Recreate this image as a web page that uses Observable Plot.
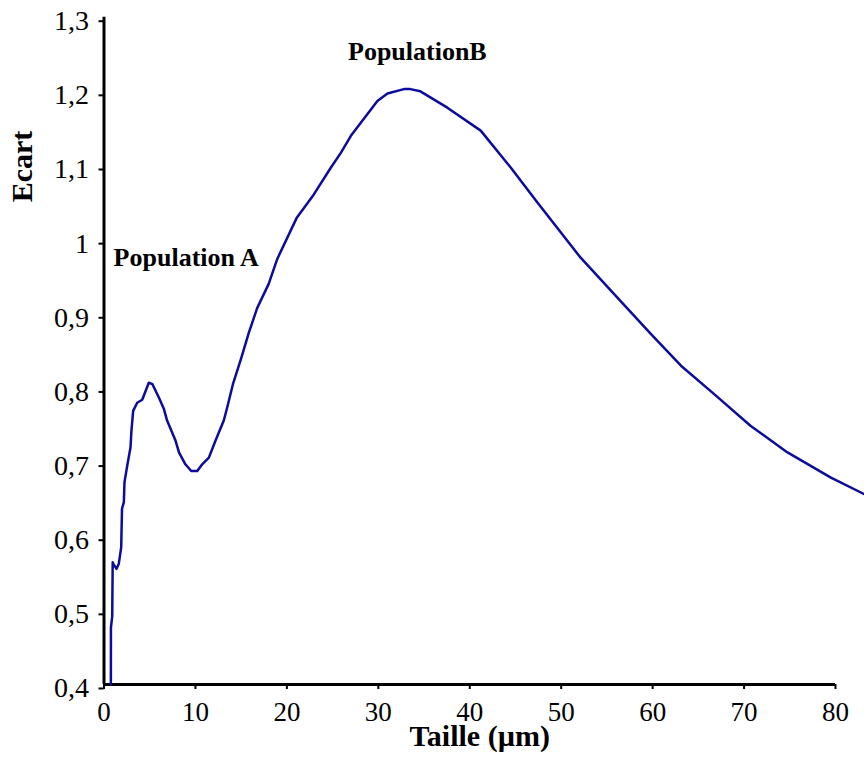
<!DOCTYPE html>
<html><head><meta charset="utf-8">
<script src="https://cdn.jsdelivr.net/npm/d3@7"></script>
<script src="https://cdn.jsdelivr.net/npm/@observablehq/plot@0.6"></script>
<style>body{margin:0;background:#fff}</style>
</head><body><div id="chart"></div>
<script>
const taille = [0.75, 0.76, 0.9, 0.95, 1.05, 1.37, 1.62, 1.88, 1.97, 2.17, 2.24, 2.54, 2.9, 3.0, 3.19, 3.63, 4.18, 4.9, 5.3, 6.0, 6.54, 6.9, 7.82, 8.2, 8.9, 9.54, 10.2, 10.74, 11.47, 12.2, 13.1, 13.48, 14.1, 15.0, 15.85, 16.76, 18.0, 18.95, 21.1, 22.95, 24.8, 25.9, 27.0, 29.9, 31.0, 32.8, 33.5, 34.6, 37.55, 41.2, 44.5, 47.4, 52.1, 56.5, 59.8, 63.1, 66.7, 70.7, 74.75, 79.5, 83.1];
const ecart = [0.40, 0.477, 0.492, 0.565, 0.562, 0.556, 0.563, 0.585, 0.637, 0.646, 0.673, 0.695, 0.72, 0.742, 0.769, 0.780, 0.784, 0.807, 0.805, 0.787, 0.772, 0.756, 0.729, 0.713, 0.697, 0.688, 0.688, 0.697, 0.706, 0.729, 0.756, 0.774, 0.805, 0.84, 0.875, 0.908, 0.94, 0.974, 1.03, 1.061, 1.097, 1.117, 1.14, 1.187, 1.197, 1.203, 1.203, 1.2, 1.178, 1.147, 1.097, 1.05, 0.976, 0.917, 0.873, 0.83, 0.792, 0.749, 0.713, 0.679, 0.657];
const xTicks = [0, 10, 20, 30, 40, 50, 60, 70, 80];
const yTicks = [0.4, 0.5, 0.6, 0.7, 0.8, 0.9, 1.0, 1.1, 1.2, 1.3];
const annotLabels = ["Population A", "PopulationB"];
const annotX = [1.05, 34.27];
const annotY = [0.975, 1.254];
const annotAnchor = ["start", "middle"];
const xTitle = "Taille (µm)";
const yTitle = "Ecart";

const data = taille.map((t, i) => ({taille: t, ecart: ecart[i]}));
const annots = annotLabels.map((l, i) => ({label: l, x: annotX[i], y: annotY[i], anchor: annotAnchor[i]}));
const fmt = d => (Math.abs(d - Math.round(d)) < 1e-9 ? String(Math.round(d)) : d.toFixed(1).replace(".", ","));
const font = "'Liberation Serif', 'Times New Roman', serif";

const chart = Plot.plot({
  width: 864,
  height: 778,
  marginLeft: 103.5,
  marginRight: 29,
  marginTop: 16.7,
  marginBottom: 94,
  style: {fontFamily: font, background: "#fff", color: "#000", overflow: "visible"},
  x: {domain: [0, 80]},
  y: {domain: [0.4, 1.3]},
  marks: [
    Plot.axisY({ticks: yTicks, tickFormat: fmt, tickSize: 5, tickPadding: 10, fontSize: 28, dy: 4, label: null, strokeWidth: 2}),
    Plot.axisX({ticks: xTicks, tickFormat: d => String(d), tickSize: 5, tickPadding: 12, fontSize: 27, label: null, strokeWidth: 2}),
    Plot.ruleX([0], {strokeWidth: 3, stroke: "#000"}),
    Plot.ruleY([0.4], {strokeWidth: 3, stroke: "#000"}),
    Plot.line(data, {x: "taille", y: "ecart", stroke: "#0b0b9e", strokeWidth: 2.5}),
    Plot.text(annots.filter(a => a.anchor === "start"), {x: "x", y: "y", text: "label", textAnchor: "start", fontWeight: "bold", fontSize: 26, fill: "#000"}),
    Plot.text(annots.filter(a => a.anchor === "middle"), {x: "x", y: "y", text: "label", textAnchor: "middle", fontWeight: "bold", fontSize: 26, fill: "#000"}),
    Plot.text([xTitle], {frameAnchor: "bottom", textAnchor: "middle", lineAnchor: "middle", dx: 10, dy: 52, fontWeight: "bold", fontSize: 30, fill: "#000"}),
    Plot.text([yTitle], {frameAnchor: "top-left", textAnchor: "middle", lineAnchor: "middle", rotate: -90, dx: -81.5, dy: 149.3, fontWeight: "bold", fontSize: 30, fill: "#000"})
  ]
});
document.getElementById("chart").appendChild(chart);
</script>
</body></html>
